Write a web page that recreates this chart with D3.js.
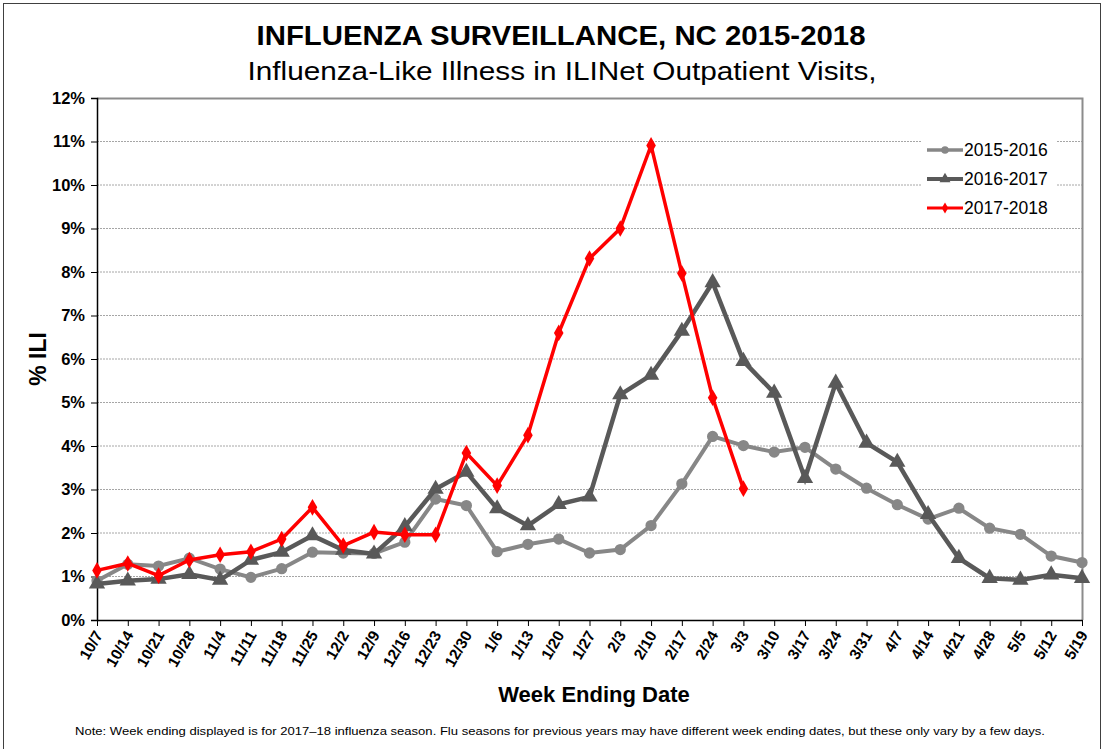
<!DOCTYPE html>
<html>
<head>
<meta charset="utf-8">
<script src="https://cdn.jsdelivr.net/npm/d3@7"></script>
<style>
  body { margin: 0; background: #fff; }
  text { font-family: "Liberation Sans", Arial, sans-serif; }
</style>
</head>
<body>
<div id="chart"></div>
<script>
// week ending dates (2017-18 season)
var weeks = ["10/7","10/14","10/21","10/28","11/4","11/11","11/18","11/25","12/2","12/9",
  "12/16","12/23","12/30","1/6","1/13","1/20","1/27","2/3","2/10","2/17","2/24","3/3",
  "3/10","3/17","3/24","3/31","4/7","4/14","4/21","4/28","5/5","5/12","5/19"]

var ili1516 = [0.90,1.28,1.24,1.42,1.17,0.98,1.18,1.56,1.54,1.53,1.79,2.78,2.63,1.57,1.74,1.86,
  1.54,1.62,2.17,3.13,4.22,4.01,3.86,3.97,3.47,3.03,2.65,2.32,2.57,2.11,1.97,1.47,1.32]
var ili1617 = [0.83,0.90,0.94,1.05,0.92,1.38,1.56,1.94,1.61,1.52,2.15,3.01,3.40,2.56,2.17,2.66,
  2.83,5.18,5.63,6.64,7.76,5.95,5.22,3.26,5.45,4.07,3.63,2.43,1.42,0.96,0.92,1.04,0.96]
var ili1718 = [1.14,1.30,1.02,1.38,1.50,1.57,1.86,2.59,1.71,2.02,1.96,1.96,3.84,3.09,4.25,6.60,
  8.31,9.00,10.91,7.97,5.11,3.02]

var seasons = ["2015-2016","2016-2017","2017-2018"]
var yTicks = [0,1,2,3,4,5,6,7,8,9,10,11,12]

var outerWidth = 1103, outerHeight = 749
var margins = {top: 98, right: 21, bottom: 129, left: 97}
var innerWidth = outerWidth - margins.left - margins.right
var innerHeight = outerHeight - margins.top - margins.bottom

var svg = d3.select("#chart").append("svg")
    .attr("width", outerWidth)
    .attr("height", outerHeight)

// outer frame
svg.append("rect")
    .attr("x", 3.5).attr("y", 3.5)
    .attr("width", outerWidth - 6).attr("height", outerHeight)
    .attr("fill", "none")
    .attr("stroke", "#404040")
    .attr("stroke-width", 1)

svg.append("text")
    .attr("x", 561).attr("y", 45)
    .attr("text-anchor", "middle")
    .attr("font-size", "27px")
    .attr("font-weight", "bold")
    .attr("textLength", 609)
    .attr("lengthAdjust", "spacingAndGlyphs")
    .text("INFLUENZA SURVEILLANCE, NC 2015-2018")

svg.append("text")
    .attr("x", 562).attr("y", 80)
    .attr("text-anchor", "middle")
    .attr("font-size", "26px")
    .attr("textLength", 629)
    .attr("lengthAdjust", "spacingAndGlyphs")
    .text("Influenza-Like Illness in ILINet Outpatient Visits,")

var plot = svg.append("g")
    .attr("transform", "translate(" + margins.left + "," + margins.top + ")")

var xScale = d3.scalePoint().domain(weeks).range([0, innerWidth])
var yScale = d3.scaleLinear().domain([0, 12]).range([innerHeight, 0])

// gridlines
plot.selectAll(".grid")
    .data(yTicks.filter(function(d){ return d > 0 && d < 12 }))
    .enter()
    .append("line")
    .attr("x1", 0).attr("x2", innerWidth)
    .attr("y1", function(d){ return yScale(d) })
    .attr("y2", function(d){ return yScale(d) })
    .attr("stroke", "#a6a6a6")
    .attr("stroke-width", 1)
    .attr("stroke-dasharray", "2,1")

// top and right border of plot area
plot.append("path")
    .attr("d", "M0,0.5H" + (innerWidth + 0.5) + "V" + innerHeight)
    .attr("fill", "none")
    .attr("stroke", "#8c8c8c")
    .attr("stroke-width", 2)

// y axis
var yAxis = plot.append("g")
    .call(d3.axisLeft(yScale).tickValues(yTicks).tickSize(6).tickFormat(function(d){ return d + "%" }))
yAxis.select(".domain").attr("stroke", "#000").attr("stroke-width", 1.5)
yAxis.selectAll(".tick line").attr("stroke", "#000")
yAxis.selectAll("text")
    .attr("font-size", "16.5px")
    .attr("font-weight", "bold")
    .attr("fill", "#000")
    .attr("x", -12)
    .style("font-family", "Liberation Sans, Arial, sans-serif")

// x axis
var xAxis = plot.append("g")
    .attr("transform", "translate(0," + innerHeight + ")")
    .call(d3.axisBottom(xScale).tickSize(6).tickSizeOuter(0))
xAxis.select(".domain").attr("stroke", "#000").attr("stroke-width", 1.5)
xAxis.selectAll(".tick line").attr("stroke", "#000")
xAxis.selectAll("text")
    .attr("font-size", "15.5px")
    .attr("font-weight", "bold")
    .attr("fill", "#000")
    .attr("text-anchor", "end")
    .attr("dy", "0.35em")
    .attr("y", 0)
    .attr("x", 0)
    .attr("transform", "translate(1,12) rotate(-60)")
    .style("font-family", "Liberation Sans, Arial, sans-serif")

svg.append("text")
    .attr("transform", "translate(46," + (margins.top + innerHeight / 2) + ") rotate(-90)")
    .attr("text-anchor", "middle")
    .attr("font-size", "23px")
    .attr("font-weight", "bold")
    .text("% ILI")

svg.append("text")
    .attr("x", 594).attr("y", 702)
    .attr("text-anchor", "middle")
    .attr("font-size", "22px")
    .attr("font-weight", "bold")
    .text("Week Ending Date")

svg.append("text")
    .attr("x", 560).attr("y", 735)
    .attr("text-anchor", "middle")
    .attr("font-size", "11.5px")
    .attr("textLength", 970)
    .attr("lengthAdjust", "spacingAndGlyphs")
    .text("Note:  Week ending displayed is for 2017\u201318 influenza season.  Flu seasons for previous years may have different week ending dates, but these only vary by a few days.")

var seriesList = [
    {name: seasons[0], values: ili1516, color: "#878787", width: 4, symbol: d3.symbolCircle, size: 100},
    {name: seasons[1], values: ili1617, color: "#595959", width: 4.5, symbol: d3.symbolTriangle, size: 115},
    {name: seasons[2], values: ili1718, color: "#ff0000", width: 3.5, symbol: d3.symbolDiamond, size: 80}
]

var line = d3.line()
    .x(function(d, i){ return xScale(weeks[i]) })
    .y(function(d){ return yScale(d) })

seriesList.forEach(function(s) {
    plot.append("path")
        .datum(s.values)
        .attr("d", line)
        .attr("fill", "none")
        .attr("stroke", s.color)
        .attr("stroke-width", s.width)
        .attr("stroke-linejoin", "miter")

    plot.selectAll(".pt-" + s.name)
        .data(s.values)
        .enter()
        .append("path")
        .attr("d", d3.symbol().type(s.symbol).size(s.size))
        .attr("transform", function(d, i){ return "translate(" + xScale(weeks[i]) + "," + yScale(d) + ")" })
        .attr("fill", s.color)
})

// legend
var legend = svg.append("g").attr("transform", "translate(922,136)")
legend.append("rect")
    .attr("width", 134).attr("height", 88)
    .attr("fill", "#fff")

seriesList.forEach(function(s, i) {
    var row = legend.append("g").attr("transform", "translate(0," + (14 + i * 29) + ")")
    row.append("line")
        .attr("x1", 5).attr("x2", 41)
        .attr("stroke", s.color)
        .attr("stroke-width", s.width - 0.5)
    row.append("path")
        .attr("d", d3.symbol().type(s.symbol).size(s.size * 0.45))
        .attr("transform", "translate(23,0)")
        .attr("fill", s.color)
    row.append("text")
        .attr("x", 42).attr("y", 0)
        .attr("dy", "0.35em")
        .attr("font-size", "17.5px")
        .text(s.name)
})
</script>
</body>
</html>
